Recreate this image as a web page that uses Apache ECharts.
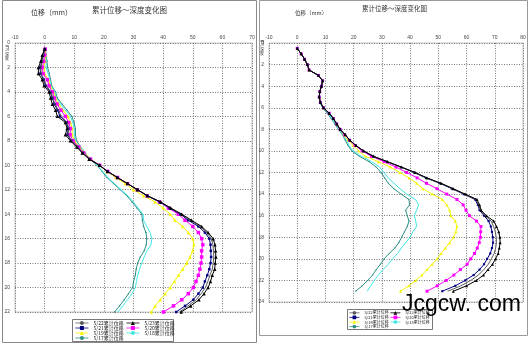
<!DOCTYPE html>
<html>
<head>
<meta charset="utf-8">
<script src="https://cdn.jsdelivr.net/npm/echarts@6/dist/echarts.min.js"></script>
<style>
html,body{margin:0;padding:0;background:#fff;}
#chart{width:530px;height:344px;}
</style>
</head>
<body>
<div id="chart"></div>
<script>
// ---- depth stations (m) ----
const depthsLeft = [0.5,1,1.5,2,2.5,3,3.5,4,4.5,5,5.5,6,6.5,7,7.5,8,8.5,9,9.5,10,10.5,11,11.5,12,12.5,13,13.5,14,14.5,15,15.5,16,16.5,17,17.5,18,18.5,19,19.5,20,20.5,21,21.5,22];
const depthsRight = [0.5,1,1.5,2,2.5,3,3.5,4,4.5,5,5.5,6,6.5,7,7.5,8,8.5,9,9.5,10,10.5,11,11.5,12,12.5,13,13.5,14,14.5,15,15.5,16,16.5,17,17.5,18,18.5,19,19.5,20,20.5,21,21.5,22,22.5,23];

// ---- axis ticks ----
const xTicksLeft = {min:-10, max:70, step:10};
const xTicksRight = {min:-10, max:80, step:10};
const yTicksLeft = {min:0, max:22, step:2};
const yTicksRight = {min:0, max:24, step:2};

// ---- series names ----
const names = ['5/17累计位移','5/18累计位移','5/19累计位移','5/20累计位移','5/21累计位移','5/22累计位移','5/23累计位移'];

// ---- left borehole: cumulative displacement (mm) ----
const d0517L = [0.3,0.5,0.8,1,1.6,2,2.4,3.7,4.3,5.9,7.6,9.2,9.9,10.4,10.4,10.8,12.1,13.8,15.2,17.7,19.4,21,23.3,25.5,27.8,29.5,31.2,32.8,33,33.4,34.2,34.5,34.3,33.6,32.3,31.4,30.9,30.6,30,29.7,28.3,26.9,25.3,23.6];
const d0518L = [0.3,0.4,0.5,0.5,1.2,1.8,2.2,3.4,4,5.4,7,8.7,9.5,10,10,10.5,12,13.7,15.4,17.8,19.6,21.3,23.6,25.8,28.1,29.9,31.6,33.2,33.4,34.5,35.6,36.2,35.9,34.5,33.6,32.8,32,31.4,31,30.6,29.5,28,26.4,24.7];
const d0519L = [0.3,0.3,0.1,-0.3,0,1.3,1.9,3,3.7,4.8,6.2,7.8,8.7,9.3,9.3,10.1,11.8,13.5,15.6,18.4,21,24,27.2,30,33.4,37.3,40,42.4,44,46.6,48.5,50,50.4,50,49.1,48,46.6,45.2,43.8,42.4,40.7,39,37.3,36];
const d0520L = [0.2,0,-0.3,-0.8,-0.5,0.9,1.5,2.6,3.3,4.2,5.5,7,8.1,8.7,8.6,9.6,11.5,13.2,15.5,18.6,21.3,24.6,28,31.3,34.6,38.8,41.8,45.1,47.4,50,51.9,53,53.4,53,53,52.8,52.4,51.9,51.1,50.2,48.5,46.3,43.5,40.1];
const d0521L = [0,-0.5,-0.9,-1.5,-1.4,-0.3,0.4,1.9,2.6,3.3,4.4,5.2,7.4,8,7.7,9,11,12.9,15.2,18.5,21.2,24.5,27.9,31.3,34.6,38.9,42.2,45.8,48.5,51.9,54.1,55.6,56,56.1,56.2,56,55.6,54.9,54.1,53.4,51.9,50.2,47.4,44.4];
const d0522L = [0,-0.4,-0.8,-1.3,-1.2,-0.1,0.6,2.1,2.8,3.5,4.7,5.6,7.6,8.2,7.9,9.2,11.1,13,15.3,18.5,21.2,24.6,28,31.4,34.8,39.1,42.5,46.1,49,52.5,54.7,56.3,56.8,57,57.1,56.9,56.6,55.8,55.1,54.3,52.8,51.2,48.4,45.5];
const d0523L = [0,-0.8,-1.3,-2.1,-2.1,-0.8,-0.2,1.5,2,2.6,3.7,4.3,7,7.6,7,8.7,10.8,12.7,15,18.5,21.2,24.6,28,31.4,34.8,39.2,42.6,46.3,49.6,53,55.2,56.9,57.5,57.7,57.8,57.6,57.4,56.6,56,55.2,53.8,52.1,49.3,46.1];

// ---- right borehole: cumulative displacement (mm) ----
const d0517R = [0,1.4,2.6,3.6,4.2,7.5,9,8.6,8,7.8,8,9,10.6,12,13.3,14.6,16,17,18,19.3,22,25.5,28,29.7,31,32.3,34.2,36.8,39.6,39.8,38.4,39,39.6,39,38,37,36,34.6,32.6,30.8,29.5,28,26.7,25,23,20.7];
const d0518R = [0,1.4,2.6,3.6,4.2,7.5,9,8.6,8,7.8,8.1,9.1,10.9,12.3,13.6,14.9,16.2,17.4,18.4,19.8,22.8,26.4,29.2,30.7,32.3,34.3,36.4,38.8,41.9,43,42.3,41.5,42,42.3,41,40,38.4,36.9,35.6,33.8,32.3,30.4,28.8,27.3,26,24.8];
const d0519R = [0,1.4,2.6,3.6,4.2,7.5,9,8.6,8,7.8,8.2,9.3,11.3,12.8,14,15.2,16.5,18,19.8,21.8,24.2,28.8,33,36.4,39.6,42.3,44.5,47.8,51.4,53,54,54.4,56,56.6,56.2,55.4,54,52.5,51,49.6,47.8,46,44.2,42,39.5,36.6];
const d0520R = [0,1.4,2.6,3.6,4.2,7.5,9,8.6,8,7.8,8.2,9.3,11.3,12.8,14,15.2,16.8,18.5,20.5,23,26.3,30.8,35,38.8,42.5,45.8,49.5,53,56.6,58.8,59.8,61,63.5,65.1,65,64.9,64.5,63.8,62.8,61.5,60.2,57.8,55.5,52.8,49.6,46];
const d0521R = [0,1.4,2.6,3.6,4.2,7.5,9,8.6,8,7.8,8.2,9.3,11.3,12.8,14,15.2,17,18.6,20.8,23.4,26.9,31.8,36.7,41.4,45.6,50.5,54.8,59,63,64,64.6,66.2,67.8,68.6,69,69.3,69.4,69,68.4,67.3,66.2,64.6,62.5,59.5,56,51.4];
const d0522R = [0,1.4,2.6,3.6,4.2,7.5,9,8.6,8,7.8,8.2,9.3,11.3,12.8,14,15.2,17,18.6,20.8,23.5,27,31.9,36.8,41.6,45.8,50.8,55,59.2,63.3,64.3,64.9,66.6,68.7,69.6,70.2,70.5,70.6,70.3,69.8,68.8,67.7,66.1,64.2,61.5,58,53.3];
const d0523R = [0,1.4,2.6,3.6,4.2,7.5,9,8.6,8,7.8,8.2,9.3,11.3,12.8,14,15.2,17,18.6,20.8,23.5,27,32,37,41.8,46,51,55.3,59.5,63.7,64.6,65.2,67,69.6,70.6,71.4,71.8,71.9,71.6,71.2,70.3,69.2,67.6,66,63.5,60,55.3];

const leftValues = [d0517L, d0518L, d0519L, d0520L, d0521L, d0522L, d0523L];
const rightValues = [d0517R, d0518R, d0519R, d0520R, d0521R, d0522R, d0523R];

// ---- line / marker look per survey date ----
const looks = {
  '5/17累计位移': {color:'#2f8f86', symbol:'circle', size:1.5},
  '5/18累计位移': {color:'#3fe6e6', symbol:'none', size:0},
  '5/19累计位移': {color:'#f5f500', symbol:'triangle', size:3.5},
  '5/20累计位移': {color:'#ff00ff', symbol:'rect', size:3.5},
  '5/21累计位移': {color:'#000080', symbol:'rect', size:2.5},
  '5/22累计位移': {color:'#5a5a5a', symbol:'none', size:0},
  '5/23累计位移': {color:'#000000', symbol:'triangle', size:3.5}
};

function buildSeries(valueSets, depths, axisIndex, scale) {
  return names.map((name, k) => {
    const look = looks[name];
    return {
      name: name,
      type: 'line',
      xAxisIndex: axisIndex,
      yAxisIndex: axisIndex,
      data: valueSets[k].map((v, i) => [v, depths[i]]),
      symbol: look.symbol,
      symbolSize: look.size * scale,
      showSymbol: look.symbol !== 'none',
      lineStyle: {color: look.color, width: 1},
      itemStyle: {color: look.color},
      animation: false,
      z: 2 + k
    };
  });
}

const axisFont = {fontSize:5, color:'#444', fontFamily:'Liberation Sans'};
const gridLine = {show:true, lineStyle:{color:'#777', width:1, type:[1,1.5]}};

function xAxis(t, gi) {
  return {
    type:'value', gridIndex:gi, position:'top', min:t.min, max:t.max, interval:t.step,
    axisLine:{show:false}, axisTick:{show:false},
    axisLabel:Object.assign({margin:3}, axisFont), splitLine:gridLine
  };
}
function yAxis(t, gi) {
  return {
    type:'value', gridIndex:gi, inverse:true, min:t.min, max:t.max, interval:t.step,
    axisLine:{show:false}, axisTick:{show:false},
    axisLabel:Object.assign({margin:5}, axisFont), splitLine:gridLine
  };
}

const legendText = {fontSize:5, lineHeight:5, color:'#222', fontFamily:'Noto Sans CJK SC'};
const legendTextR = {fontSize:4, lineHeight:4.6, color:'#222', fontFamily:'Noto Sans CJK SC'};
function legendCol(left, top, items, txt, w, h) {
  return {
    left:left, top:top, orient:'vertical', itemGap:0, itemWidth:w, itemHeight:h,
    padding:0, selectedMode:false, data:items, textStyle:txt, z:10,
    lineStyle:{width:0.8}, symbolKeepAspect:true
  };
}
const colA = ['5/22累计位移','5/21累计位移','5/19累计位移','5/17累计位移'];
const colB = ['5/23累计位移','5/20累计位移','5/18累计位移'];

const chart = echarts.init(document.getElementById('chart'), null, {renderer:'canvas'});

const titleFont = 'Noto Sans CJK SC';
chart.setOption({
  backgroundColor:'#fff',
  animation:false,
  grid:[
    {left:15, top:43, width:237, height:269, show:true, borderColor:'#c8c8c8', borderWidth:1},
    {left:269, top:43, width:254, height:259, show:true, borderColor:'#c8c8c8', borderWidth:1}
  ],
  xAxis:[xAxis(xTicksLeft,0), xAxis(xTicksRight,1)],
  yAxis:[yAxis(yTicksLeft,0), yAxis(yTicksRight,1)],
  legend:[
    legendCol(75, 320.5, colA, legendText, 13, 5),
    legendCol(126, 320.5, colB, legendText, 13, 5),
    legendCol(349, 310.5, colA, legendTextR, 10, 4.6),
    legendCol(390, 310.5, colB, legendTextR, 10, 4.6)
  ],
  series: buildSeries(leftValues, depthsLeft, 0, 1).concat(buildSeries(rightValues, depthsRight, 1, 0.85)),
  graphic:[
    // panel frames
    {type:'rect', shape:{x:2.5, y:0.5, width:254, height:342}, style:{fill:'none', stroke:'#8a8a8a', lineWidth:1}, z:0},
    {type:'rect', shape:{x:259.5, y:0.5, width:268, height:335}, style:{fill:'none', stroke:'#9a9a9a', lineWidth:1}, z:0},
    // legend boxes
    {type:'rect', shape:{x:72.5, y:319.5, width:101, height:22}, style:{fill:'#fff', stroke:'#555', lineWidth:0.8}, z:1},
    {type:'rect', shape:{x:347.5, y:309.5, width:85, height:20}, style:{fill:'#fff', stroke:'#555', lineWidth:0.8}, z:1},
    // titles
    {type:'text', x:92, y:6, style:{text:'累计位移～深度变化图', fontSize:7.5, fill:'#333', fontFamily:titleFont}, z:5},
    {type:'text', x:31, y:9, style:{text:'位移（mm）', fontSize:7, fill:'#333', fontFamily:titleFont}, z:5},
    {type:'text', x:362, y:5.5, style:{text:'累计位移～深度变化图', fontSize:6.5, fill:'#333', fontFamily:titleFont}, z:5},
    {type:'text', x:295, y:10.5, style:{text:'位移（mm）', fontSize:5.5, fill:'#333', fontFamily:titleFont}, z:5},
    // depth axis captions
    {type:'text', x:9.5, y:45, rotation:-Math.PI/2, style:{text:'(m)', fontSize:4, fill:'#333', fontFamily:titleFont}, z:5},
    {type:'text', x:5, y:52, style:{text:'深\n度', fontSize:4, lineHeight:4, fill:'#333', fontFamily:titleFont}, z:5},
    {type:'text', x:264.5, y:40, rotation:-Math.PI/2, style:{text:'(m)', fontSize:4, fill:'#333', fontFamily:titleFont}, z:5},
    {type:'text', x:260, y:47, style:{text:'深\n度', fontSize:4, lineHeight:4, fill:'#333', fontFamily:titleFont}, z:5},
    // site mark
    {type:'text', x:402, y:293, style:{text:'Jcgcw. com', fontSize:23, fill:'#000', fontFamily:'Liberation Sans'}, z:20}
  ]
});
</script>
</body>
</html>
